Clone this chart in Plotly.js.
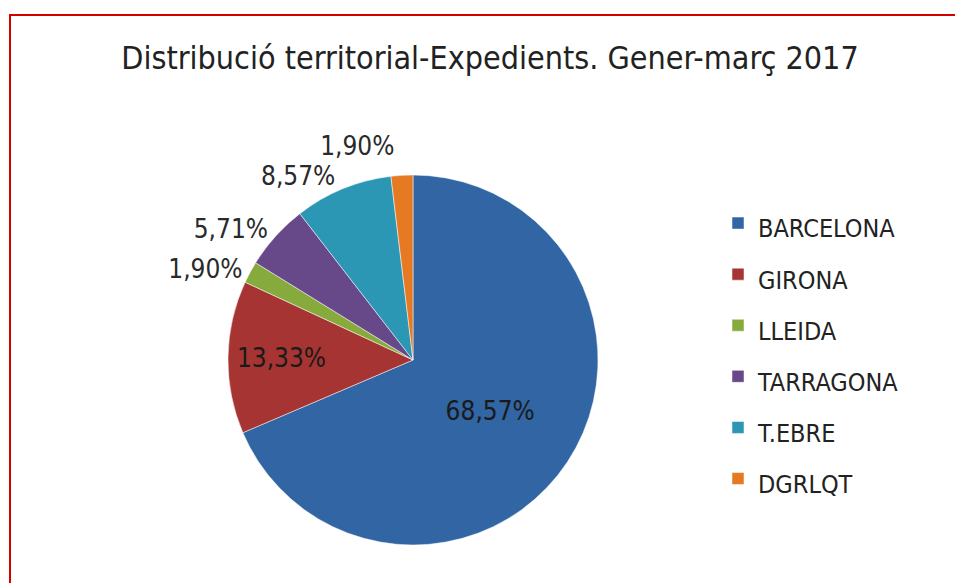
<!DOCTYPE html>
<html>
<head>
<meta charset="utf-8">
<script src="https://cdn.plot.ly/plotly-3.0.1.min.js"></script>
<style>
html,body{margin:0;padding:0;background:#fff;}
#chart{width:955px;height:583px;}
#chart path.textline{display:none !important;}
</style>
</head>
<body>
<div id="chart"></div>
<script>
const categories = ['BARCELONA', 'GIRONA', 'LLEIDA', 'TARRAGONA', 'T.EBRE', 'DGRLQT'];
const expedients = [72, 14, 2, 6, 9, 2];
const sliceColors = ['#3165a3', '#a63432', '#86ab3c', '#674889', '#2c97b5', '#e57a23'];
const labelPositions = ['inside', 'inside', 'outside', 'outside', 'outside', 'outside'];
const titleText = 'Distribució territorial-Expedients. Gener-març 2017';

const FONT = '"DejaVu Sans Condensed", "Liberation Sans Narrow", sans-serif';

const trace = {
  type: 'pie',
  labels: categories.map(c => '<span style="font-size:25px">' + c + '</span>'),
  values: expedients,
  sort: false,
  direction: 'clockwise',
  rotation: 0,
  marker: { colors: sliceColors, line: { color: '#ffffff', width: 0.5 } },
  texttemplate: '%{percent:.2%}',
  textposition: labelPositions,
  insidetextorientation: 'horizontal',
  insidetextfont: { family: FONT, size: 26, color: '#1a1a1a' },
  outsidetextfont: { family: FONT, size: 26, color: '#2a2a2a' },
  hoverinfo: 'label+value+percent',
  domain: { x: [228/955, 598/955], y: [1 - 545/583, 1 - 175/583] },
  showlegend: true
};

const layout = {
  width: 955, height: 583,
  margin: { l: 0, r: 0, t: 0, b: 0 },
  paper_bgcolor: '#ffffff',
  separators: ',.',
  font: { family: FONT, color: '#222222' },
  title: {
    text: titleText,
    font: { family: FONT, size: 32, color: '#222222' },
    x: 490/955, xanchor: 'center',
    y: 1 - 58/583, yanchor: 'middle', yref: 'container'
  },
  legend: {
    x: 718/955, xanchor: 'left',
    y: 1 - 351/583, yanchor: 'middle',
    font: { family: FONT, size: 37, color: '#222222' },
    bgcolor: 'rgba(0,0,0,0)',
    traceorder: 'normal'
  },
  shapes: [{
    type: 'rect', xref: 'paper', yref: 'paper',
    x0: 10/955, x1: 1.05, y0: -0.05, y1: 1 - 15/583,
    line: { color: '#d40000', width: 2 }, fillcolor: 'rgba(0,0,0,0)'
  }]
};

Plotly.newPlot('chart', [trace], layout, { displayModeBar: false, staticPlot: true });
</script>
</body>
</html>
